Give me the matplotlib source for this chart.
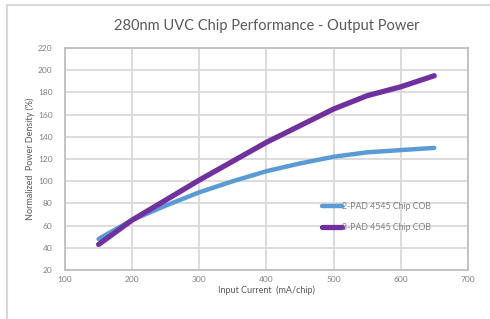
import matplotlib.pyplot as plt
from matplotlib.lines import Line2D

plt.rcParams['font.family'] = ['Lato', 'DejaVu Sans']

current_2pad = [150, 200, 250, 300, 350, 400, 450, 500, 550, 600, 650]
power_2pad = [48, 65, 78, 90, 100, 109, 116, 122, 126, 128, 130]
current_3pad = [150, 200, 250, 300, 350, 400, 450, 500, 550, 600, 650]
power_3pad = [43, 65, 83, 101, 118, 135, 150, 165, 177, 185, 195]

blue = '#5b9bd5'
purple = '#7030a0'
grid_c = '#d9d9d9'

fig = plt.figure(figsize=(4.9, 3.19), dpi=100)
ax = fig.add_axes([0.1327, 0.1536, 0.822, 0.696])

# figure frame (top + left only visible)
fig.add_artist(Line2D([7/490, 1], [1-5/319, 1-5/319], color=grid_c, lw=1.5, transform=fig.transFigure))
fig.add_artist(Line2D([7/490, 7/490], [0, 1-5/319], color=grid_c, lw=1.5, transform=fig.transFigure))

ax.plot(current_2pad, power_2pad, color=blue, lw=3.2, solid_capstyle='round',
        solid_joinstyle='round', label='2-PAD 4545 Chip COB', zorder=3)
ax.plot(current_3pad, power_3pad, color=purple, lw=3.8, solid_capstyle='round',
        solid_joinstyle='round', label='3-PAD 4545 Chip COB', zorder=3)

ax.set_xlim(100, 700)
ax.set_ylim(20, 220)
ax.set_xticks(range(100, 701, 100))
ax.set_yticks(range(20, 221, 20))
ax.grid(True, color=grid_c, lw=1.3)
ax.set_axisbelow(True)
for s in ax.spines.values():
    s.set_color('#bfbfbf')
    s.set_linewidth(1.3)
ax.tick_params(length=0, labelsize=6, colors='#808080', pad=4)
ax.tick_params(axis='y', pad=9)

ax.set_title('280nm UVC Chip Performance - Output Power', fontsize=10.5,
             color='#595959', pad=13)
ax.set_xlabel('Input Current  (mA/chip)', fontsize=6.5, color='#595959', labelpad=2)
ax.set_ylabel('Normalized  Power Density (%)', fontsize=6.5, color='#595959', labelpad=2)

leg = ax.legend(loc='upper left', bbox_to_anchor=(0.63, 0.32), frameon=False,
                fontsize=6.3, handlelength=2.2, handletextpad=0.0, labelspacing=1.3,
                borderaxespad=0)
for t in leg.get_texts():
    t.set_color('#808080')

fig.savefig('out.png', dpi=100)
